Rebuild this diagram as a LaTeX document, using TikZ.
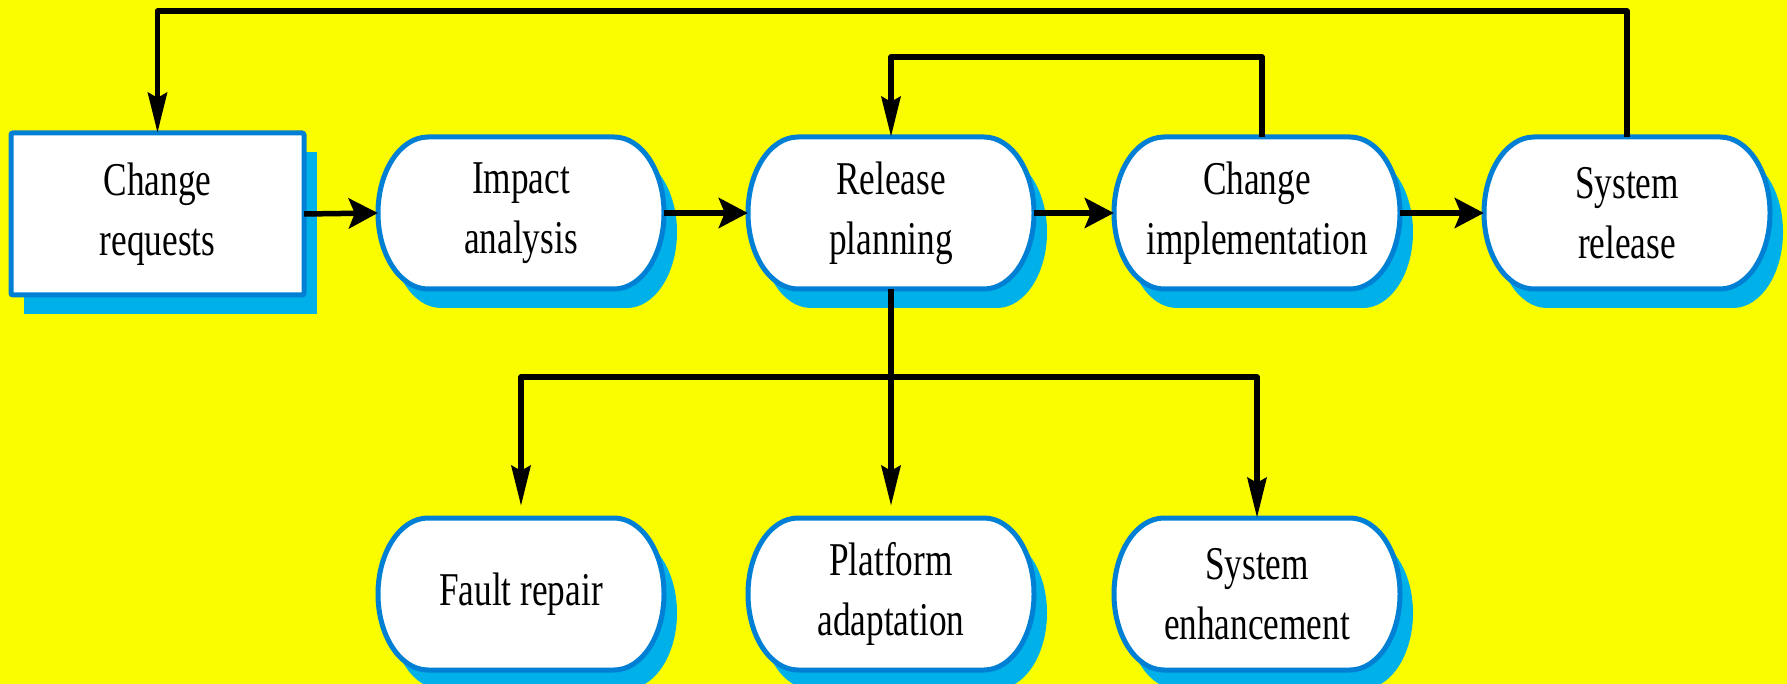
\documentclass[tikz,border=0pt]{standalone}
\usepackage{fontspec}
\setmainfont{Liberation Serif}[FakeStretch=0.75]
\usetikzlibrary{arrows.meta,calc}
\definecolor{bgy}{RGB}{250,252,0}
\definecolor{bordc}{RGB}{0,128,212}
\definecolor{shadc}{RGB}{0,176,232}
\tikzset{
  boxtext/.style={inner sep=0pt, align=center, font=\fontsize{47}{60}\selectfont,
    minimum width=286pt, minimum height=152pt},
  conn/.style={line width=5.5pt, line join=round},
  harrow/.style={conn, -{Stealth[length=29pt,width=30pt,inset=6pt]}},
  varrow/.style={conn, -{Stealth[length=40pt,width=19pt,inset=5pt]}},
  bord/.style={draw=bordc, line width=5pt, fill=white},
  shad/.style={fill=shadc},
}
\newcommand\capshape[2]{%
  \fill[shad, shift={(13,19)}] (#1-93,#2-76) -- (#1+93,#2-76)
    arc[start angle=-90, end angle=90, x radius=50, y radius=76]
    -- (#1-93,#2+76)
    arc[start angle=90, end angle=270, x radius=50, y radius=76] -- cycle;
  \path[bord] (#1-93,#2-76) -- (#1+93,#2-76)
    arc[start angle=-90, end angle=90, x radius=50, y radius=76]
    -- (#1-93,#2+76)
    arc[start angle=90, end angle=270, x radius=50, y radius=76] -- cycle;
}
\begin{document}
\begin{tikzpicture}[x=1pt, y=-1pt]
  \useasboundingbox (0,0) rectangle (1787,684);
  \fill[bgy] (0,0) rectangle (1787,684);

  % Change requests box
  \fill[shad] (24,152) rectangle (317,314);
  \draw[bord, rounded corners=2pt] (11,133) rectangle (304,295);
  \node[boxtext, minimum width=293pt, minimum height=162pt] (cr) at (157.5,214) {Change\\requests};

  % capsule shapes
  \capshape{521}{213}
  \capshape{891}{213}
  \capshape{1257}{213}
  \capshape{1627}{213}
  \capshape{521}{594}
  \capshape{891}{594}
  \capshape{1257}{594}

  \node[boxtext] (ia) at (521,213) {Impact\\analysis};
  \node[boxtext] (rp) at (891,213) {Release\\planning};
  \node[boxtext] (ci) at (1257,213) {Change\\implementation};
  \node[boxtext] (sr) at (1627,213) {System\\release};
  \node[boxtext] (fr) at (521,594) {Fault repair};
  \node[boxtext] (pa) at (891,594) {Platform\\adaptation};
  \node[boxtext] (se) at (1257,594) {System\\enhancement};

  \coordinate (top) at (0,11);
  \coordinate (mid) at (0,57);
  \coordinate (br) at (0,377);

  % main flow
  \draw[harrow] (cr.east) -- (ia.west);
  \draw[harrow] (ia.east) -- (rp.west);
  \draw[harrow] (rp.east) -- (ci.west);
  \draw[harrow] (ci.east) -- (sr.west);

  % feedback loops
  \draw[varrow] (sr.north) -- (sr.north |- top) -- (cr.north |- top) -- (cr.north);
  \draw[varrow] ([xshift=5pt]ci.north) -- ([xshift=5pt]ci.north |- mid) -- (rp.north |- mid) -- (rp.north);

  % branches
  \draw[varrow] (rp.south) -- ([yshift=12pt]pa.north);
  \draw[varrow] (rp.south |- br) -- (fr.north |- br) -- ([yshift=12pt]fr.north);
  \draw[varrow] (rp.south |- br) -- (se.north |- br) -- (se.north);
\end{tikzpicture}
\end{document}
